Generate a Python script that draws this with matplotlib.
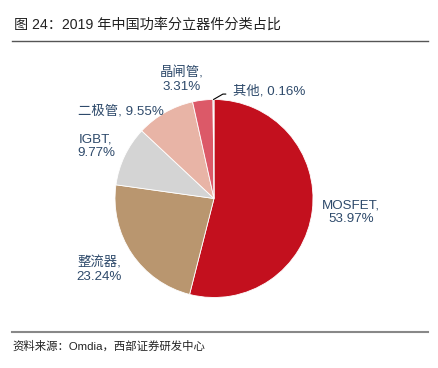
import numpy as np
import matplotlib
matplotlib.use("Agg")
import matplotlib.pyplot as plt
from matplotlib.lines import Line2D

plt.rcParams['font.family'] = ['Liberation Sans', 'Noto Sans CJK SC', 'DejaVu Sans']

# data
categories = ['MOSFET', '整流器', 'IGBT', '二极管', '晶闸管', '其他']
shares = [53.97, 23.24, 9.77, 9.55, 3.31, 0.16]
colors = ['#C3101E', '#B9966F', '#D4D4D4', '#E8B4A6', '#DC5968', '#8C8C8C']
label_text = ['MOSFET,\n53.97%', '整流器,\n23.24%', 'IGBT,\n9.77%',
              '二极管, 9.55%', '晶闸管,\n3.31%', '其他, 0.16%']
# label anchors in pie-radius units, with alignment
label_pos = [(1.09, -0.14), (-0.93, -0.72), (-1.0, 0.53),
             (-0.51, 0.88), (-0.33, 1.20)]
label_ha = ['left', 'right', 'right', 'right', 'center']
label_color = '#2E4A6B'

fig = plt.figure(figsize=(4.38, 3.68), dpi=100)

# title and rules
fig.text(14 / 438, 1 - 25 / 368, '图 24：2019 年中国功率分立器件分类占比',
         fontsize=10.2, color='#222222', va='center', ha='left')
fig.add_artist(Line2D([12 / 438, 428 / 438], [1 - 41 / 368] * 2,
                      color='#555555', lw=1.0))
fig.add_artist(Line2D([12 / 438, 428 / 438], [1 - 332 / 368] * 2,
                      color='#888888', lw=1.5))
fig.text(12 / 438, 1 - 346 / 368, '资料来源：Omdia，西部证券研发中心',
         fontsize=8.2, color='#222222', va='center', ha='left')

# pie
r_px = 99
cx, cy = 214, 198.5
ax = fig.add_axes([(cx - r_px) / 438, 1 - (cy + r_px) / 368,
                   2 * r_px / 438, 2 * r_px / 368])
wedges, _ = ax.pie(shares, colors=colors, startangle=90, counterclock=False,
                   radius=1.0, wedgeprops=dict(edgecolor='white', linewidth=0.6))
ax.set_xlim(-1, 1)
ax.set_ylim(-1, 1)
ax.set_aspect('equal')
ax.axis('off')

for txt, (x, y), ha in zip(label_text[:5], label_pos, label_ha):
    ax.text(x, y, txt, ha=ha, va='center', multialignment='center',
            fontsize=9.6, color=label_color, clip_on=False, linespacing=1.15)

# leader for the tiny slice
w = wedges[5]
ang = np.deg2rad((w.theta1 + w.theta2) / 2)
x0, y0 = np.cos(ang), np.sin(ang)
ax.annotate(label_text[5], xy=(x0, y0), xytext=(0.19, 1.08),
            ha='left', va='center', fontsize=9.6, color=label_color,
            annotation_clip=False,
            arrowprops=dict(arrowstyle='-', color='black', lw=0.8,
                            connectionstyle='angle,angleA=0,angleB=30,rad=0',
                            relpos=(0, 0.3), shrinkA=3, shrinkB=0))

fig.savefig('out.png', dpi=100)
